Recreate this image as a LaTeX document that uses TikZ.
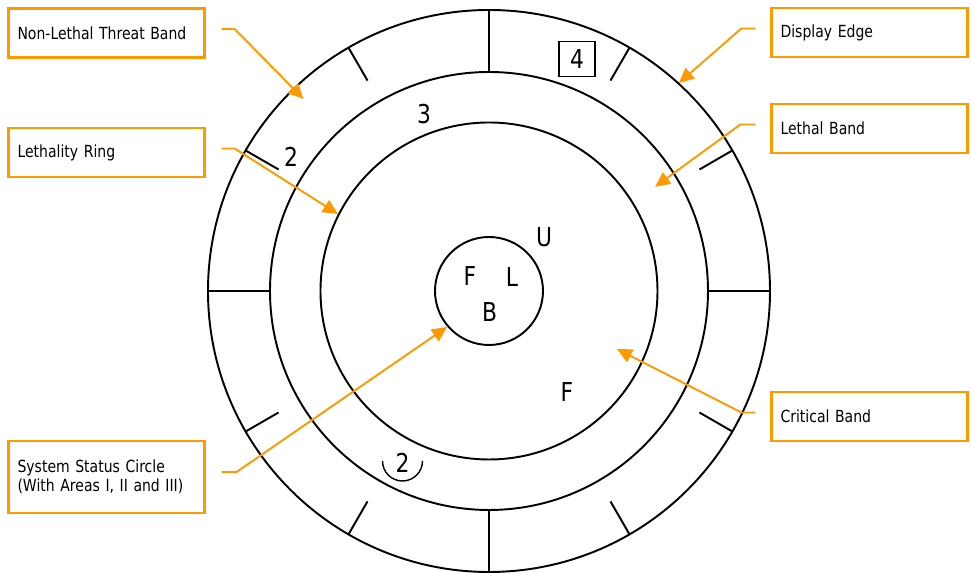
\documentclass[tikz,border=0pt]{standalone}
\usepackage{fontspec}
\usetikzlibrary{arrows.meta,positioning,calc}
\newfontfamily\dispfont{DejaVu Sans}[FakeStretch=0.84]
\definecolor{callorange}{RGB}{255,153,0}

\begin{document}
\begin{tikzpicture}[
  x=0.02cm, y=0.02cm,
  ring/.style={line width=1.1pt},
  callbox/.style={draw=callorange, line width=1.3pt, minimum width=3.92cm, minimum height=0.98cm, text width=3.56cm, inner xsep=0.18cm, align=left, font=\dispfont\fontsize{9.5}{10.8}\selectfont},
  callout/.style={draw=callorange, line width=1.1pt, -{Triangle[length=0.3cm,width=0.28cm]}},
  sym/.style={inner sep=0pt, font=\dispfont\fontsize{14.8}{16}\selectfont}
]
  \useasboundingbox (-489,-282) rectangle (482,291);

  \coordinate (c) at (0,0);
  \draw[ring] (c) circle[radius=281];
  \draw[ring] (c) circle[radius=219];
  \draw[ring] (c) circle[radius=168.5];
  \draw[ring] (c) circle[radius=54];
  \foreach \a in {0,90,180,270}
    \draw[ring] (\a:281) -- (\a:219);
  \foreach \a in {30,60,120,150,210,240,300,330}
    \draw[ring] (\a:281) -- (\a:243);

  \node[sym] (n3) at (-65,176.5) {3};
  \node[sym, draw, line width=0.8pt, minimum width=0.72cm, minimum height=0.70cm] (n4) at (88,232) {4};
  \node[sym] (n2a) at (-198,134) {2};
  \node[sym] (nu) at (55,53.5) {U};
  \node[sym] (nf) at (-19,14.5) {F};
  \node[sym] (nl) at (23,14) {L};
  \node[sym] (nb) at (0.5,-21) {B};
  \node[sym] (nf2) at (78,-101.5) {F};
  \node[sym] (n2b) at (-86.5,-171.5) {2};
  \draw[line width=0.8pt] ([shift={(-20,1.5)}]n2b.center) arc[start angle=180, end angle=360, radius=20];

  \node[callbox] (nltb) at (-382.5,258) {Non-Lethal Threat Band};
  \node[callbox] (lring) at (-382.5,138.5) {Lethality Ring};
  \node[callbox, minimum height=1.44cm] (sscircle) at (-382.5,-186) {System Status Circle\\(With Areas I, II and III)};
  \node[callbox] (dedge) at (380.5,258.5) {Display Edge};
  \node[callbox] (lband) at (380.5,162.5) {Lethal Band};
  \node[callbox] (cband) at (380.5,-125.5) {Critical Band};

  \coordinate (nltb-tip) at (134:267);
  \coordinate (lring-tip) at (153:169.5);
  \coordinate (sscircle-tip) at (220.6:55.3);
  \coordinate (dedge-tip) at (47.6:281.7);
  \coordinate (lband-tip) at (32.1:196);
  \coordinate (cband-tip) at (-24.4:140.5);

  \draw[callout] ([shift={(16,4)}]nltb.east) -- ++(13,0) -- (nltb-tip);
  \draw[callout] ([shift={(16,4)}]lring.east) -- ++(13,0) -- (lring-tip);
  \draw[callout] ([shift={(16,5)}]sscircle.east) -- ++(15,0) -- (sscircle-tip);
  \draw[callout] ([shift={(-15,4)}]dedge.west) -- ++(-14,0) -- (dedge-tip);
  \draw[callout] ([shift={(-15,4)}]lband.west) -- ++(-15,0) -- (lband-tip);
  \draw[callout] ([shift={(-15,4)}]cband.west) -- ++(-14,0) -- (cband-tip);
\end{tikzpicture}
\end{document}
